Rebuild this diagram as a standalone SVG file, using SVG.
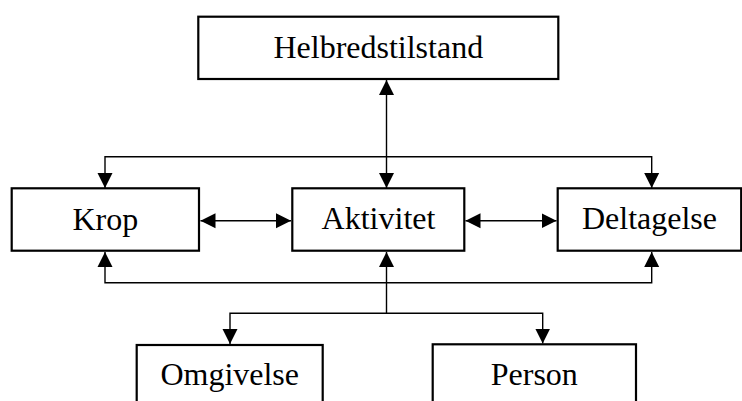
<svg xmlns="http://www.w3.org/2000/svg" width="742" height="401" viewBox="0 0 742 401">
<style>
.box{fill:#fff;stroke:#000;stroke-width:2.2}
.lbl{font-family:"Liberation Serif","Times New Roman",serif;font-size:32px;fill:#000;text-anchor:middle}
.con{fill:none;stroke:#000;stroke-width:1.4}
</style>
<defs>
<marker id="ah" markerUnits="userSpaceOnUse" markerWidth="16" markerHeight="16" viewBox="0 0 16 16" refX="15" refY="8" orient="auto-start-reverse">
<path d="M0,0.5 L15,8 L0,15.5 z" fill="#000"/>
</marker>
</defs>
<rect width="742" height="401" fill="#fff"/>
<g id="connectors">
<path class="con" d="M386.5,188 L386.5,80" marker-start="url(#ah)" marker-end="url(#ah)"/>
<path class="con" d="M105,188 L105,156.7 L651.7,156.7 L651.7,188" marker-start="url(#ah)" marker-end="url(#ah)"/>
<path class="con" d="M200.5,220.7 L291,220.7" marker-start="url(#ah)" marker-end="url(#ah)"/>
<path class="con" d="M465.5,220.7 L556.5,220.7" marker-start="url(#ah)" marker-end="url(#ah)"/>
<path class="con" d="M105,252 L105,282.7 L651.7,282.7 L651.7,252" marker-start="url(#ah)" marker-end="url(#ah)"/>
<path class="con" d="M386.5,313.3 L386.5,252" marker-end="url(#ah)"/>
<path class="con" d="M230,344 L230,313.3 L542.7,313.3 L542.7,343.5" marker-start="url(#ah)" marker-end="url(#ah)"/>
</g>
<g id="helbredstilstand">
<rect class="box" x="198.3" y="16.7" width="360" height="62.3"/>
<text class="lbl" x="378.3" y="58">Helbredstilstand</text>
</g>
<g id="krop">
<rect class="box" x="11.7" y="188.3" width="187.3" height="62.4"/>
<text class="lbl" x="105.3" y="229.5">Krop</text>
</g>
<g id="aktivitet">
<rect class="box" x="292.3" y="188.3" width="172" height="62.4"/>
<text class="lbl" x="378.5" y="229">Aktivitet</text>
</g>
<g id="deltagelse">
<rect class="box" x="557.7" y="188.3" width="183.5" height="62.4"/>
<text class="lbl" x="649.5" y="229">Deltagelse</text>
</g>
<g id="omgivelse">
<rect class="box" x="136.7" y="345" width="186" height="80"/>
<text class="lbl" x="229.7" y="385">Omgivelse</text>
</g>
<g id="person">
<rect class="box" x="432.7" y="344.3" width="203.3" height="80"/>
<text class="lbl" x="534.3" y="385">Person</text>
</g>
</svg>
